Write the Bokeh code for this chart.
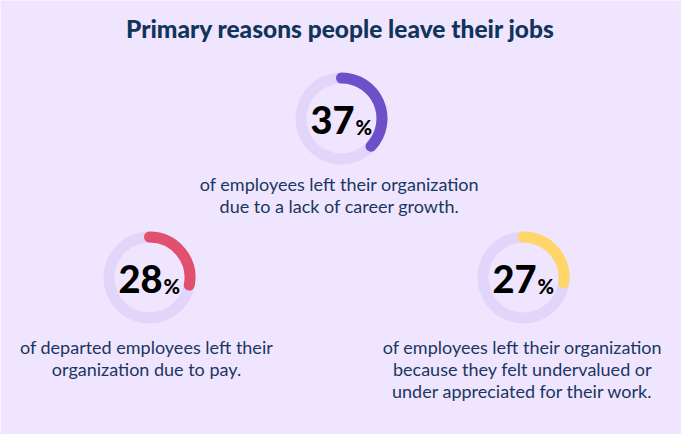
import math
from bokeh.plotting import figure
from bokeh.models import Range1d, ColumnDataSource
from bokeh.core.properties import value
from bokeh.embed import file_html
from bokeh.resources import INLINE

# ---- data ----
title = "Primary reasons people leave their jobs"
percents = [37, 28, 27]
colors = ["#6B50C9", "#E1516F", "#FFD667"]
labels = [
    "of employees left their organization\ndue to a lack of career growth.",
    "of departed employees left their\norganization due to pay.",
    "of employees left their organization\nbecause they felt undervalued or\nunder appreciated for their work.",
]

# ---- layout (pixel space, y measured from top) ----
W, H = 681, 434
centers = [(341, 118), (149, 277), (523, 277)]
text_centers = [(339, 190), (146, 353), (522, 353)]
r_mid, thick = 40.5, 11
BG = "#F0E5FF"
TRACK = "#E2D5FA"
NAVY = "#1A3760"
TITLE = "#11345A"
K = 0.35  # baseline correction factor (fraction of font size)

def Y(y):
    return H - y

p = figure(width=W, height=H, x_range=Range1d(0, W), y_range=Range1d(0, H),
           output_backend="svg", toolbar_location=None, min_border=0,
           background_fill_color=BG, border_fill_color=BG, outline_line_color=None)
p.axis.visible = False
p.grid.visible = False

cx = [c[0] for c in centers]
cy = [Y(c[1]) for c in centers]

# tracks
p.annulus(x=cx, y=cy, inner_radius=r_mid - thick / 2, outer_radius=r_mid + thick / 2,
          fill_color=TRACK, line_color=None)

# progress arcs
src = ColumnDataSource(dict(
    x=cx, y=cy, color=colors,
    start=[math.pi / 2] * 3,
    end=[math.pi / 2 - v / 100 * 2 * math.pi for v in percents],
))
p.arc(x="x", y="y", radius=r_mid, start_angle="start", end_angle="end",
      direction="clock", line_color="color", line_width=thick, line_cap="round", source=src)

# numbers
p.text(x=[c + 13 for c in cx], y=[c - 15 + K * 38 for c in cy], text=[str(v) for v in percents],
       text_font=value("'Lato Black', Lato"), text_font_style="bold", text_font_size="38px",
       text_color="#000000", text_align="right", text_baseline="alphabetic")
p.text(x=[c + 14 for c in cx], y=[c - 15 + K * 20 for c in cy], text=["%"] * 3,
       text_font=value("'Lato Black', Lato"), text_font_style="bold", text_font_size="20px",
       text_color="#000000", text_align="left", text_baseline="alphabetic")

# labels
lx, ly, lt = [], [], []
for (tx, ty), lab in zip(text_centers, labels):
    for i, line in enumerate(lab.split("\n")):
        lx.append(tx)
        ly.append(Y(ty + 22 * i) + K * 18)
        lt.append(line)
p.text(x=lx, y=ly, text=lt, text_font=value("Lato"), text_font_size="18px",
       text_color=NAVY, text_align="center", text_baseline="alphabetic")

# title
p.text(x=[340], y=[Y(37) + K * 24.5], text=[title], text_font=value("'Lato Heavy', Lato"),
       text_font_style="bold", text_font_size="24.5px", text_color=TITLE,
       text_align="center", text_baseline="alphabetic")

open("out.html", "w").write(file_html(p, INLINE))
